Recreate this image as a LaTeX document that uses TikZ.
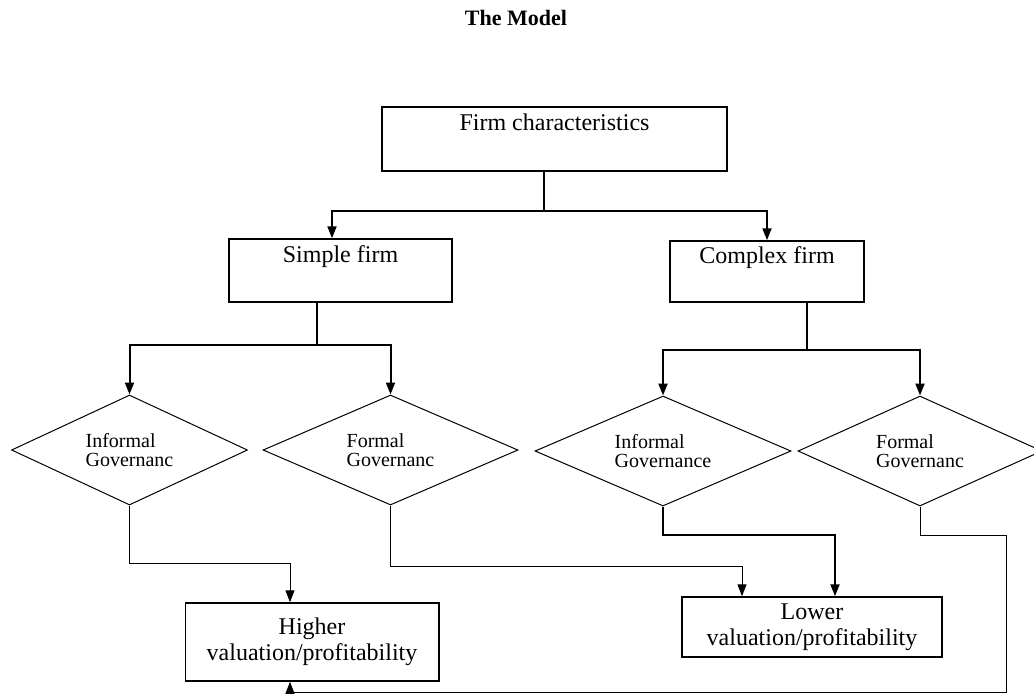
\documentclass[tikz,border=0pt]{standalone}
\usepackage{fontspec}
\setmainfont{Liberation Serif}
\usetikzlibrary{arrows.meta,shapes.geometric}
\begin{document}
\begin{tikzpicture}[x=0.5pt,y=-0.5pt,
  box/.style={draw,line width=0.75pt,inner sep=1pt,align=center,font=\fontsize{12}{13}\selectfont},
  gov/.style={diamond,draw,line width=0.5pt,aspect=2.15,inner sep=1pt,minimum height=55pt,align=left,font=\fontsize{10}{9.5}\selectfont},
  link/.style={line width=0.6pt},
  arr/.style={line width=1pt,-{Triangle[width=4.5pt,length=6pt]}},
  thinarr/.style={line width=0.5pt,-{Triangle[width=4.5pt,length=6pt]}}]
  \useasboundingbox (0,0) rectangle (1034,693);
  \node[anchor=base,font=\fontsize{11}{13}\selectfont\bfseries] (title) at (516,25) {The Model};
  % boxes
  \node[box,minimum width=172.5pt,minimum height=32pt] (firm) at (554.5,139) {Firm characteristics\\\strut};
  \node[box,minimum width=111.5pt,minimum height=31.5pt] (simple) at (340.5,270.5) {Simple firm\\\strut};
  \node[box,minimum width=97pt,minimum height=30.5pt] (complex) at (767,271.5) {Complex firm\\\strut};
  \node[box,minimum width=126.75pt,minimum height=39pt] (higher) at (312,642) {Higher\\valuation/profitability};
  \node[box,minimum width=130pt,minimum height=30pt] (lower) at (812,627) {Lower\\valuation/profitability};
  % governance diamonds
  \node[gov,minimum width=118pt] (d1) at (129.5,450) {Informal\\Governanc};
  \node[gov,minimum width=127.5pt] (d2) at (390.5,450) {Formal\\Governanc};
  \node[gov,minimum width=128pt] (d3) at (663,451) {Informal\\Governance};
  \node[gov,minimum width=122pt] (d4) at (920,451) {Formal\\Governanc};
  % splits
  \coordinate (fsplit) at (544,211);
  \coordinate (ssplit) at (317,345);
  \coordinate (csplit) at (807,350);
  \coordinate (bend) at (1006,692);
  \draw[link] (firm.south -| fsplit) -- (fsplit);
  \draw[arr] (fsplit) -| ([xshift=-4.25pt]simple.north);
  \draw[arr] (fsplit) -| (complex.north);
  \draw[link] (simple.south -| ssplit) -- (ssplit);
  \draw[arr] (ssplit) -| (d1.north);
  \draw[arr] (ssplit) -| (d2.north);
  \draw[link] (complex.south -| csplit) -- (csplit);
  \draw[arr] (csplit) -| (d3.north);
  \draw[arr] (csplit) -| (d4.north);
  % outcomes
  \draw[thinarr] (d1.south) -- ++(0,58) -| ([xshift=-11pt]higher.north);
  \draw[thinarr] (d2.south) -- ++(0,61) -| ([xshift=-35pt]lower.north);
  \draw[arr] (d3.south) -- ++(0,28) -| ([xshift=11.5pt]lower.north);
  \draw[thinarr] (d4.south) -- ++(0,29) -| (bend) -| ([xshift=-11pt]higher.south);
\end{tikzpicture}
\end{document}
